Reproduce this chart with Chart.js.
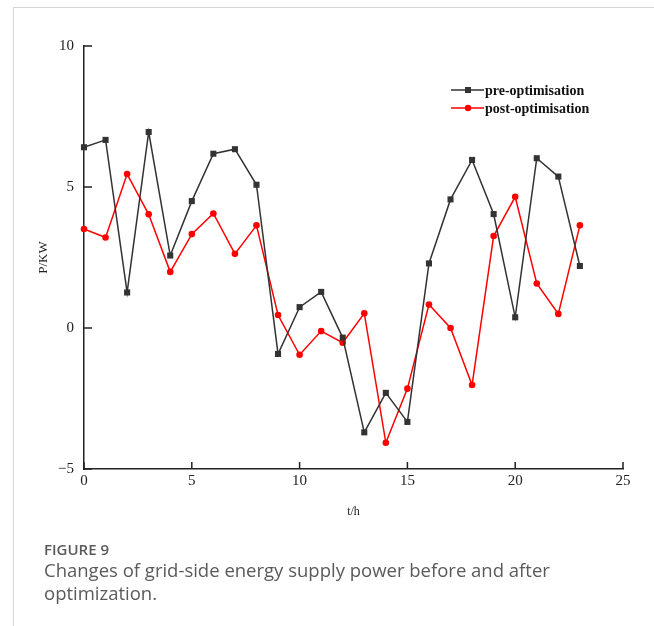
<!DOCTYPE html>
<html>
<head>
<meta charset="utf-8">
<script src="https://cdn.jsdelivr.net/npm/chart.js@4/dist/chart.umd.min.js"></script>
<style>
  html, body { margin: 0; padding: 0; background: #fff; }
  #wrap { position: relative; width: 654px; height: 626px; overflow: hidden; }
  #frameTop { position: absolute; left: 13px; top: 7px; right: 0; height: 1px; background: #d4d4d4; }
  #frameLeft { position: absolute; left: 13px; top: 7px; bottom: 0; width: 1px; background: #d4d4d4; }
  canvas { position: absolute; left: 0; top: 0; }
  .cap { position: absolute; left: 44px; font-family: "Open Sans", sans-serif; color: #5a5a5a; }
  #figNo { top: 539px; font-size: 15px; font-weight: 600; }
  #figText { top: 558px; font-size: 18.5px; line-height: 23px; width: 600px; }
</style>
</head>
<body>
<div id="wrap">
  <div id="frameTop"></div>
  <div id="frameLeft"></div>
  <canvas id="powerChart" width="654" height="626"></canvas>
  <div class="cap" id="figNo">FIGURE 9</div>
  <div class="cap" id="figText">Changes of grid-side energy supply power before and after<br>optimization.</div>
</div>
<script>
// Dados
const hours = [0, 1, 2, 3, 4, 5, 6, 7, 8, 9, 10, 11, 12, 13, 14, 15, 16, 17, 18, 19, 20, 21, 22, 23];
const preOptimisation = [6.41, 6.67, 1.26, 6.95, 2.57, 4.50, 6.18, 6.34, 5.08, -0.92, 0.74, 1.28, -0.34,
    -3.70, -2.30, -3.33, 2.29, 4.56, 5.96, 4.04, 0.38, 6.02, 5.37, 2.20];
const postOptimisation = [3.51, 3.21, 5.46, 4.03, 1.99, 3.33, 4.06, 2.63, 3.64, 0.46, -0.95, -0.11, -0.52,
    0.52, -4.07, -2.15, 0.83, 0.00, -2.02, 3.26, 4.65, 1.58, 0.50, 3.64];
const xTicks = [0, 5, 10, 15, 20, 25];
const yTicks = [-5, 0, 5, 10];

const serif = '"Liberation Serif", "Times New Roman", serif';

// Ticks voltados para dentro
const innerTicks = {
    id: 'innerTicks',
    afterDraw(chart) {
        const { ctx, chartArea, scales } = chart;
        ctx.save();
        ctx.strokeStyle = '#222';
        ctx.lineWidth = 1.5;
        ctx.beginPath();
        scales.x.ticks.forEach(t => {
            const px = scales.x.getPixelForValue(t.value);
            ctx.moveTo(px, chartArea.bottom);
            ctx.lineTo(px, chartArea.bottom - 7);
        });
        scales.y.ticks.forEach(t => {
            const py = scales.y.getPixelForValue(t.value);
            ctx.moveTo(chartArea.left, py);
            ctx.lineTo(chartArea.left + 8, py);
        });
        ctx.stroke();
        ctx.restore();
    }
};

// Legenda desenhada à mão
const boxLegend = {
    id: 'boxLegend',
    afterDraw(chart) {
        const { ctx } = chart;
        ctx.save();
        ctx.font = 'bold 14px ' + serif;
        ctx.textBaseline = 'middle';
        chart.data.datasets.forEach((ds, i) => {
            const y = 90 + i * 18;
            ctx.strokeStyle = ds.borderColor;
            ctx.lineWidth = 1.5;
            ctx.beginPath();
            ctx.moveTo(451, y);
            ctx.lineTo(484, y);
            ctx.stroke();
            ctx.fillStyle = ds.pointBackgroundColor;
            if (ds.pointStyle === 'rect') {
                ctx.fillRect(465, y - 3, 6, 6);
            } else {
                ctx.beginPath();
                ctx.arc(468, y, 3.2, 0, Math.PI * 2);
                ctx.fill();
            }
            ctx.fillStyle = '#111';
            ctx.fillText(ds.label, 485, y + 1);
        });
        ctx.restore();
    }
};

const ctx = document.getElementById('powerChart').getContext('2d');
new Chart(ctx, {
    type: 'line',
    data: {
        datasets: [
            {
                label: 'pre-optimisation',
                data: hours.map((h, i) => ({ x: h, y: preOptimisation[i] })),
                borderColor: '#333333',
                backgroundColor: '#333333',
                pointBackgroundColor: '#333333',
                pointBorderWidth: 0,
                pointStyle: 'rect',
                pointRadius: 4.3,
                borderWidth: 1.5,
                tension: 0,
                clip: false
            },
            {
                label: 'post-optimisation',
                data: hours.map((h, i) => ({ x: h, y: postOptimisation[i] })),
                borderColor: '#ff0000',
                backgroundColor: '#ff0000',
                pointBackgroundColor: '#ff0000',
                pointBorderWidth: 0,
                pointStyle: 'circle',
                pointRadius: 3.3,
                borderWidth: 1.5,
                tension: 0,
                clip: false
            }
        ]
    },
    options: {
        responsive: false,
        animation: false,
        layout: { padding: { left: 0, top: 46, right: 31, bottom: 105 } },
        plugins: {
            legend: { display: false },
            tooltip: { enabled: false }
        },
        scales: {
            x: {
                type: 'linear',
                min: 0,
                max: 25,
                afterBuildTicks: scale => { scale.ticks = xTicks.map(v => ({ value: v })); },
                afterFit: scale => { scale.height = 52; },
                grid: { display: false, drawTicks: false },
                border: { display: true, color: '#222', width: 1.5 },
                ticks: { padding: 3, color: '#222', font: { family: serif, size: 15 } },
                title: {
                    display: true,
                    text: 't/h',
                    color: '#222',
                    font: { family: serif, size: 12 },
                    padding: { top: 0, bottom: 2 }
                }
            },
            y: {
                min: -5,
                max: 10,
                afterBuildTicks: scale => { scale.ticks = yTicks.map(v => ({ value: v })); },
                afterFit: scale => { scale.width = 84; },
                grid: { display: false, drawTicks: false },
                border: { display: true, color: '#222', width: 1.5 },
                ticks: {
                    padding: 10,
                    color: '#222',
                    font: { family: serif, size: 15 },
                    callback: v => (v < 0 ? '\u2212' + Math.abs(v) : String(v))
                },
                title: {
                    display: true,
                    text: 'P/KW',
                    color: '#222',
                    font: { family: serif, size: 13 },
                    padding: { top: 36, bottom: 0 }
                }
            }
        }
    },
    plugins: [innerTicks, boxLegend]
});
</script>
</body>
</html>
